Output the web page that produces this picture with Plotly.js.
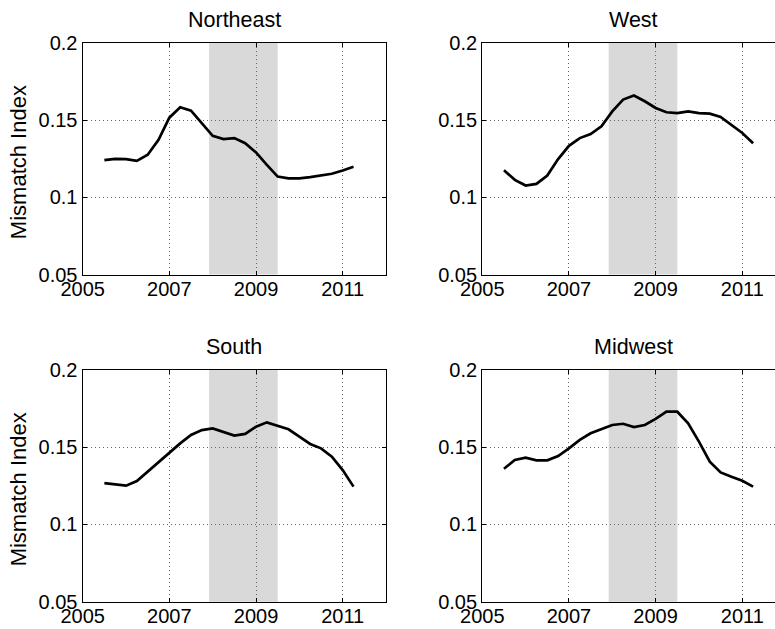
<!DOCTYPE html>
<html>
<head>
<meta charset="utf-8">
<script src="https://cdn.plot.ly/plotly-3.0.1.min.js"></script>
<style>html,body{margin:0;padding:0;background:#fff;}#chart{width:775px;height:629px;}</style>
</head>
<body>
<div id="chart"></div>
<script>
// Quarterly dates
const years = [2005.5,2005.75,2006,2006.25,2006.5,2006.75,2007,2007.25,2007.5,2007.75,2008,2008.25,2008.5,2008.75,2009,2009.25,2009.5,2009.75,2010,2010.25,2010.5,2010.75,2011,2011.25];

const northeast = [0.124,0.1249,0.1247,0.1236,0.1275,0.1372,0.1515,0.1582,0.156,0.148,0.1398,0.1377,0.1383,0.135,0.129,0.121,0.1134,0.1123,0.1123,0.113,0.1143,0.1152,0.1173,0.1197];
const west = [0.1175,0.1113,0.1076,0.1087,0.1141,0.1247,0.1333,0.1383,0.1409,0.1459,0.1556,0.1632,0.1658,0.1621,0.1578,0.155,0.1545,0.1556,0.1545,0.1541,0.152,0.147,0.1416,0.135];
const south = [0.1268,0.126,0.1251,0.1281,0.1342,0.1402,0.146,0.1525,0.1579,0.1611,0.1622,0.16,0.1575,0.1586,0.1633,0.1661,0.164,0.1616,0.1568,0.1521,0.1493,0.1439,0.1352,0.1245];
const midwest = [0.1361,0.1417,0.1432,0.1415,0.1415,0.1443,0.1493,0.1547,0.159,0.1618,0.1644,0.1652,0.1631,0.1644,0.1683,0.173,0.173,0.1655,0.1536,0.1407,0.1337,0.1309,0.1283,0.1245];

const regionNames = ["Northeast","West","South","Midwest"];
const xTickVals = [2005,2007,2009,2011];
const xTickText = ["2005","2007","2009","2011"];
const yTickVals = [0.05,0.1,0.15,0.2];
const yTickText = ["0.05","0.1","0.15","0.2"];
const recession = [2007.917, 2009.5];
const yAxisTitle = "Mismatch Index";

const series = [northeast, west, south, midwest];

const W = 775, H = 629;
const FONT = "Liberation Sans, Arial, Helvetica, sans-serif";
const TICK_SIZE = 20;
const TITLE_SIZE = 21.5;
const YTITLE_SIZE = 22;
const pxPerYear = 43.33;
// panel pixel boxes: left, top, bottom
const panels = [
  {l: 82.7, t: 42.7, b: 274.6},
  {l: 482.3, t: 42.7, b: 274.6},
  {l: 82.7, t: 370, b: 601.7},
  {l: 482.3, t: 370, b: 601.7}
];

const traces = [];
const layout = {
  width: W, height: H,
  margin: {l: 0, r: 0, t: 0, b: 0},
  paper_bgcolor: "#fff",
  plot_bgcolor: "#fff",
  showlegend: false,
  font: {family: FONT, size: TICK_SIZE, color: "#000"},
  shapes: [],
  annotations: []
};

panels.forEach((p, i) => {
  const n = i + 1;
  const xa = n === 1 ? "x" : "x" + n;
  const ya = n === 1 ? "y" : "y" + n;
  const xKey = n === 1 ? "xaxis" : "xaxis" + n;
  const yKey = n === 1 ? "yaxis" : "yaxis" + n;
  const rightPx = Math.min(p.l + 7 * pxPerYear, W);
  const xEnd = 2005 + (rightPx - p.l) / pxPerYear;
  const clipped = (p.l + 7 * pxPerYear) > W;

  traces.push({
    x: years, y: series[i], xaxis: xa, yaxis: ya,
    type: "scatter", mode: "lines",
    line: {color: "#000", width: 2.7},
    hoverinfo: "skip"
  });

  layout[xKey] = {
    domain: [p.l / W, rightPx / W],
    range: [2005, xEnd],
    anchor: ya,
    tickvals: xTickVals, ticktext: xTickText,
    showgrid: true, gridcolor: "#666", griddash: "1px,3px", gridwidth: 1,
    zeroline: false,
    showline: true, linecolor: "#000", linewidth: 1.2,
    mirror: "ticks",
    ticks: "inside", ticklen: 4, tickcolor: "#000", tickwidth: 1,
    ticklabelstandoff: -4,
    tickfont: {family: FONT, size: TICK_SIZE, color: "#000"},
    fixedrange: true
  };
  layout[yKey] = {
    domain: [1 - p.b / H, 1 - p.t / H],
    range: [0.05, 0.2],
    anchor: xa,
    tickvals: yTickVals, ticktext: yTickText,
    showgrid: true, gridcolor: "#666", griddash: "1px,3px", gridwidth: 1,
    zeroline: false,
    showline: true, linecolor: "#000", linewidth: 1.2,
    mirror: clipped ? false : "ticks",
    ticks: "inside", ticklen: 4, tickcolor: "#000", tickwidth: 1,
    tickfont: {family: FONT, size: TICK_SIZE, color: "#000"},
    fixedrange: true
  };

  layout.shapes.push({
    type: "rect", xref: xa, yref: ya + " domain",
    x0: recession[0], x1: recession[1], y0: 0, y1: 1,
    fillcolor: "#d9d9d9", line: {width: 0}, layer: "below"
  });

  const fullCenter = p.l + 3.5 * pxPerYear;
  layout.annotations.push({
    text: regionNames[i], xref: "paper", yref: "paper",
    x: fullCenter / W, y: 1 - (p.t - 23) / H,
    xanchor: "center", yanchor: "middle", showarrow: false,
    font: {family: FONT, size: TITLE_SIZE, color: "#000"}
  });

  if (i % 2 === 0) {
    layout.annotations.push({
      text: yAxisTitle, xref: "paper", yref: "paper",
      x: 18 / W, y: 1 - ((p.t + p.b) / 2 + 3.5) / H,
      xanchor: "center", yanchor: "middle", showarrow: false,
      textangle: -90,
      font: {family: FONT, size: YTITLE_SIZE, color: "#000"}
    });
  }
});

Plotly.newPlot("chart", traces, layout, {displayModeBar: false, staticPlot: true});
</script>
</body>
</html>
